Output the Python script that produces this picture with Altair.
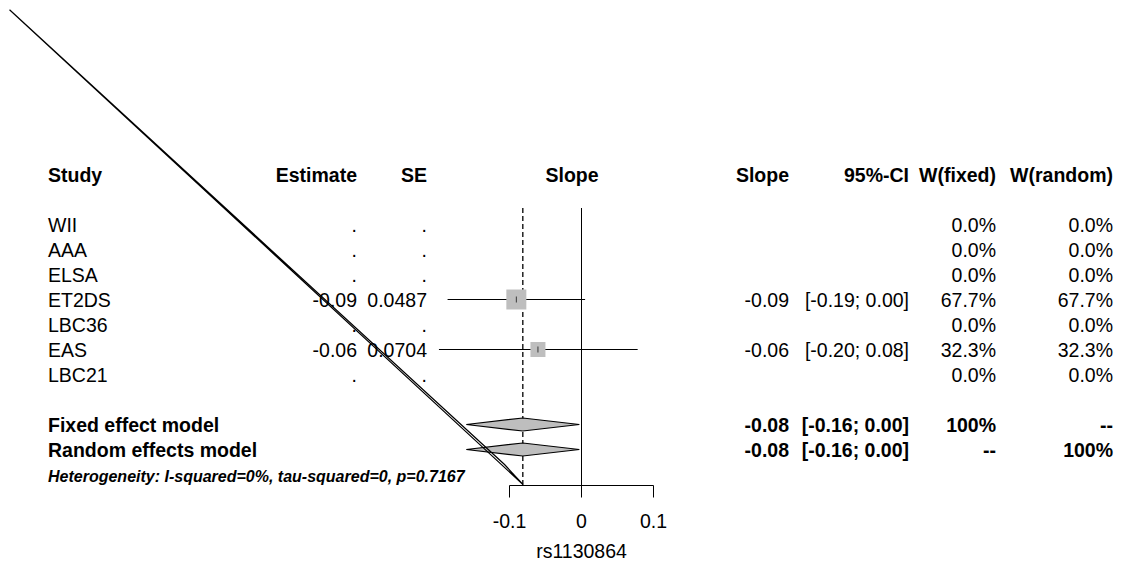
import altair as alt
import pandas as pd

# ---------------- data ----------------
studies = ["WII", "AAA", "ELSA", "ET2DS", "LBC36", "EAS", "LBC21"]
estimate_txt = [".", ".", ".", "-0.09", ".", "-0.06", "."]
se_txt = [".", ".", ".", "0.0487", ".", "0.0704", "."]
slope_txt = ["", "", "", "-0.09", "", "-0.06", ""]
ci_txt = ["", "", "", "[-0.19; 0.00]", "", "[-0.20; 0.08]", ""]
wfixed_txt = ["0.0%", "0.0%", "0.0%", "67.7%", "0.0%", "32.3%", "0.0%"]
wrandom_txt = ["0.0%", "0.0%", "0.0%", "67.7%", "0.0%", "32.3%", "0.0%"]

# plotted studies (estimate, CI, weight %)
est = [None, None, None, -0.0905, None, -0.0605, None]
ci_lo = [None, None, None, -0.186, None, -0.198, None]
ci_hi = [None, None, None, 0.005, None, 0.078, None]
weight = [0.0, 0.0, 0.0, 67.7, 0.0, 32.3, 0.0]

models = ["Fixed effect model", "Random effects model"]
model_est = [-0.0815, -0.0815]
model_lo = [-0.160, -0.160]
model_hi = [-0.003, -0.003]
model_slope_txt = ["-0.08", "-0.08"]
model_ci_txt = ["[-0.16; 0.00]", "[-0.16; 0.00]"]
model_wfixed = ["100%", "--"]
model_wrandom = ["--", "100%"]

heterogeneity = "Heterogeneity: I-squared=0%, tau-squared=0, p=0.7167"
x_ticks = [-0.1, 0, 0.1]
x_tick_labels = ["-0.1", "0", "0.1"]
x_title = "rs1130864"

headers = {
    "study": "Study", "estimate": "Estimate", "se": "SE", "plot": "Slope",
    "slope": "Slope", "ci": "95%-CI", "wf": "W(fixed)", "wr": "W(random)",
}

# stray double diagonal line present in the reference (data units)
stray_x = [-0.7944, -0.1069, -0.0813, -0.7944]
stray_y = [-8.59, 9.6, 10.4, -8.59]

# ---------------- layout ----------------
W, H = 1125, 572
FONT = "Liberation Sans"
FS = 19.5
X0 = 581.5          # pixel of value 0
PX_PER_UNIT = 720.0 # pixels per 1.0 of slope
ROW0 = 224.5        # pixel of first study row
ROW_H = 25.0
xdom = [-X0 / PX_PER_UNIT, (W - X0) / PX_PER_UNIT]
ydom = [-ROW0 / ROW_H, (H - ROW0) / ROW_H]

xs = alt.Scale(domain=xdom, nice=False, zero=False)
ys = alt.Scale(domain=ydom, nice=False, zero=False, reverse=True)


def X(f):
    return alt.X(f, type="quantitative", scale=xs, axis=None)


def Y(f):
    return alt.Y(f, type="quantitative", scale=ys, axis=None)


rows = pd.DataFrame({
    "row": list(range(len(studies))),
    "study": studies, "estimate": estimate_txt, "se": se_txt,
    "slope": slope_txt, "ci": ci_txt, "wf": wfixed_txt, "wr": wrandom_txt,
    "est": est, "lo": ci_lo, "hi": ci_hi, "w": weight,
})
plotted = rows.dropna(subset=["est"]).copy()

mrow0 = len(studies) + 1
mrows = pd.DataFrame({
    "row": [mrow0 + i for i in range(len(models))],
    "study": models, "slope": model_slope_txt, "ci": model_ci_txt,
    "wf": model_wfixed, "wr": model_wrandom,
    "est": model_est, "lo": model_lo, "hi": model_hi,
})
het_row = mrow0 + len(models)

hdr = pd.DataFrame([dict(row=-2, **headers)])


def text_layer(df, field, xpx, align, bold=False, size=FS, italic=False, dy=1):
    return alt.Chart(df).mark_text(
        align=align, baseline="middle", font=FONT, fontSize=size,
        fontWeight="bold" if bold else "normal",
        fontStyle="italic" if italic else "normal", color="black", dy=dy,
    ).encode(x=alt.value(xpx), y=Y("row"), text=alt.Text(f"{field}:N"))


cols = [("study", 48, "left"), ("estimate", 357, "right"), ("se", 427, "right"),
        ("slope", 789, "right"), ("ci", 909, "right"), ("wf", 996, "right"),
        ("wr", 1113, "right")]

layers = []
# header
for f, xp, al in cols:
    layers.append(text_layer(hdr, f, xp, al, bold=True))
layers.append(text_layer(hdr, "plot", 572, "center", bold=True))
# study rows
for f, xp, al in cols:
    layers.append(text_layer(rows, f, xp, al))
# model rows
for f, xp, al in [c for c in cols if c[0] in ("study", "slope", "ci", "wf", "wr")]:
    layers.append(text_layer(mrows, f, xp, al, bold=True))
# heterogeneity
layers.append(text_layer(pd.DataFrame({"row": [het_row], "t": [heterogeneity]}),
                         "t", 48, "left", bold=True, size=16, italic=True, dy=2))

AX_Y = 485.5
TOP_Y = 208

# reference lines
zero_df = pd.DataFrame({"v": [0.0]})
layers.append(alt.Chart(zero_df).mark_rule(color="black", strokeWidth=1).encode(
    x=X("v"), y=alt.value(TOP_Y), y2=alt.value(AX_Y)))
pooled_df = pd.DataFrame({"v": [model_est[0]]})
layers.append(alt.Chart(pooled_df).mark_rule(color="black", strokeWidth=1.3,
                                              strokeDash=[5, 3]).encode(
    x=X("v"), y=alt.value(TOP_Y), y2=alt.value(AX_Y)))

# CI lines
layers.append(alt.Chart(plotted).mark_rule(color="black", strokeWidth=1).encode(
    x=X("lo"), x2=alt.X2("hi"), y=Y("row")))
# squares
layers.append(alt.Chart(plotted).mark_square(filled=True, color="#BEBEBE", opacity=1).encode(
    x=X("est"), y=Y("row"),
    size=alt.Size("w:Q", scale=alt.Scale(domain=[32.3, 67.7], range=[225, 400]), legend=None)))
# point tick
layers.append(alt.Chart(plotted).mark_tick(orient="vertical", color="black", size=6,
                                           thickness=1).encode(x=X("est"), y=Y("row")))

# diamonds
dia = []
for _, r in mrows.iterrows():
    dia += [dict(m=r.study, x=r.lo, yt=r.row, yb=r.row),
            dict(m=r.study, x=r.est, yt=r.row - 0.26, yb=r.row + 0.26),
            dict(m=r.study, x=r.hi, yt=r.row, yb=r.row)]
dia = pd.DataFrame(dia)
layers.append(alt.Chart(dia).mark_area(orient="vertical", fill="#BEBEBE", stroke="black",
                                       strokeWidth=1.2, opacity=1).encode(
    x=X("x"), y=Y("yt"), y2=alt.Y2("yb"), detail="m:N"))

# x axis drawn from tick values
axis_df = pd.DataFrame({"lo": [min(x_ticks)], "hi": [max(x_ticks)]})
layers.append(alt.Chart(axis_df).mark_rule(color="black", strokeWidth=1).encode(
    x=X("lo"), x2=alt.X2("hi"), y=alt.value(AX_Y)))
tick_df = pd.DataFrame({"t": x_ticks, "lab": x_tick_labels})
layers.append(alt.Chart(tick_df).mark_rule(color="black", strokeWidth=1).encode(
    x=X("t"), y=alt.value(AX_Y), y2=alt.value(AX_Y + 12)))
layers.append(alt.Chart(tick_df).mark_text(font=FONT, fontSize=FS, baseline="middle",
                                           align="center", color="black").encode(
    x=X("t"), y=alt.value(522), text="lab:N"))
layers.append(alt.Chart(pd.DataFrame({"t": [x_title]})).mark_text(
    font=FONT, fontSize=FS, baseline="middle", align="center", color="black").encode(
    x=alt.value(X0), y=alt.value(552), text="t:N"))

# stray diagonal
stray = pd.DataFrame({"x": stray_x, "y": stray_y, "o": list(range(len(stray_x)))})
layers.append(alt.Chart(stray).mark_line(color="black", strokeWidth=1.2).encode(
    x=X("x"), y=Y("y"), order="o:Q"))

chart = alt.layer(*layers).properties(
    width=W, height=H, padding=0, autosize=alt.AutoSizeParams(type="none"),
    background="white",
).configure_view(stroke=None)

chart.save("out.html", embed_options={"renderer": "svg", "actions": False})
